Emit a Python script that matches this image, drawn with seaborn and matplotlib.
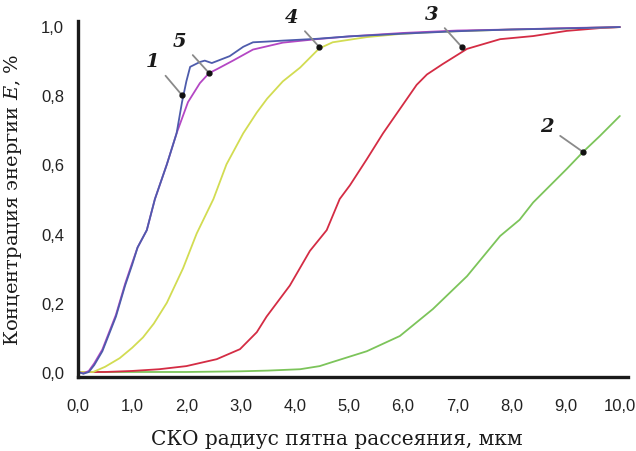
import matplotlib
matplotlib.use("Agg")
import matplotlib.pyplot as plt
from matplotlib.ticker import FuncFormatter
import seaborn as sns
import pandas as pd

# Curve 1
x1 = [0.0, 0.1, 0.2, 0.3, 0.45, 0.6, 0.7, 0.87, 1.0, 1.1, 1.27, 1.42, 1.64, 1.82, 1.92,
      2.0, 2.07, 2.25, 2.34, 2.47, 2.8, 3.05, 3.23, 3.48, 3.8, 4.4, 5.0, 6.0, 7.0, 8.0, 9.0, 10.0]
y1 = [0.0, -0.005, 0.0, 0.02, 0.06, 0.12, 0.16, 0.25, 0.31, 0.36, 0.41, 0.5, 0.6, 0.69, 0.78,
      0.84, 0.882, 0.896, 0.9, 0.893, 0.913, 0.94, 0.953, 0.955, 0.958, 0.963, 0.97, 0.978,
      0.985, 0.99, 0.993, 0.997]
# Curve 2
x2 = [0.0, 1.0, 2.0, 3.0, 3.5, 4.1, 4.46, 4.7, 5.33, 5.94, 6.55, 7.18, 7.79, 8.15, 8.4,
      9.02, 9.32, 9.63, 10.0]
y2 = [0.0, 0.0, 0.0, 0.002, 0.004, 0.008, 0.017, 0.029, 0.06, 0.104, 0.182, 0.277, 0.393,
      0.44, 0.49, 0.587, 0.636, 0.682, 0.74]
# Curve 3
x3 = [0.0, 0.5, 1.0, 1.5, 2.0, 2.56, 2.99, 3.3, 3.48, 3.91, 4.28, 4.59, 4.83, 5.02, 5.33,
      5.63, 5.94, 6.25, 6.44, 6.73, 7.18, 7.79, 8.4, 9.02, 9.63, 10.0]
y3 = [0.0, 0.0, 0.003, 0.008, 0.017, 0.037, 0.066, 0.115, 0.16, 0.25, 0.35, 0.41, 0.5, 0.54,
      0.615, 0.69, 0.76, 0.83, 0.86, 0.89, 0.934, 0.962, 0.971, 0.986, 0.994, 0.997]
# Curve 4
x4 = [0.0, 0.28, 0.5, 0.77, 1.0, 1.2, 1.4, 1.64, 1.94, 2.19, 2.5, 2.74, 3.05, 3.3, 3.49,
      3.78, 4.1, 4.45, 4.7, 5.33, 5.94, 6.5, 7.0, 8.0, 9.0, 10.0]
y4 = [0.0, 0.0, 0.015, 0.04, 0.07, 0.1, 0.14, 0.2, 0.3, 0.4, 0.5, 0.6, 0.69, 0.75, 0.79,
      0.84, 0.88, 0.935, 0.953, 0.968, 0.977, 0.982, 0.985, 0.99, 0.993, 0.997]
# Curve 5
x5 = [0.0, 0.1, 0.2, 0.3, 0.45, 0.6, 0.7, 0.87, 1.0, 1.1, 1.27, 1.42, 1.64, 1.82, 2.03,
      2.25, 2.42, 2.56, 2.86, 3.23, 3.78, 4.4, 5.0, 6.0, 7.0, 8.0, 9.0, 10.0]
y5 = [0.0, -0.004, 0.003, 0.025, 0.065, 0.125, 0.165, 0.255, 0.315, 0.36, 0.41, 0.5, 0.6,
      0.69, 0.78, 0.835, 0.864, 0.875, 0.9, 0.932, 0.952, 0.962, 0.97, 0.98, 0.987, 0.99,
      0.994, 0.997]

curve_labels = ["1", "2", "3", "4", "5"]
# label position and the point on the curve it marks
label_xy = [(1.38, 0.90), (8.65, 0.71), (6.53, 1.035), (3.95, 1.026), (1.88, 0.957)]
target_xy = [(1.92, 0.80), (9.32, 0.636), (7.08, 0.94), (4.45, 0.94), (2.42, 0.864)]

x_ticks = [0, 1, 2, 3, 4, 5, 6, 7, 8, 9, 10]
y_ticks = [0.0, 0.2, 0.4, 0.6, 0.8, 1.0]

colors = ["#4e5cac", "#7cc45a", "#d42c44", "#d2dc52", "#b447c4"]

sns.set_theme(style="white")
plt.rcParams["font.family"] = ["Liberation Sans", "DejaVu Sans"]
plt.rcParams["mathtext.fontset"] = "dejavuserif"

fig = plt.figure(figsize=(6.36, 4.52), dpi=100)
ax = fig.add_axes([0.1226, 0.1637, 0.8648, 0.7876])

series = [(x2, y2), (x3, y3), (x4, y4), (x5, y5), (x1, y1)]
order = [1, 2, 3, 4, 0]
for (xs, ys), idx in zip(series, order):
    df = pd.DataFrame({"x": xs, "y": ys})
    sns.lineplot(data=df, x="x", y="y", ax=ax, color=colors[idx], linewidth=1.3,
                 estimator=None, sort=False)

for lab, (tx, ty), (px, py) in zip(curve_labels, label_xy, target_xy):
    ax.annotate(lab, xy=(px, py), xytext=(tx, ty), textcoords="data",
                fontsize=14, fontstyle="italic", fontweight="bold",
                family="DejaVu Serif", ha="center", va="center", color="#1a1a1a",
                arrowprops=dict(arrowstyle="-", color="#8a8a8a", lw=1.3,
                                shrinkA=3, shrinkB=0))
    ax.plot([px], [py], marker="o", markersize=3.5, color="#111111", zorder=5)

ax.set_xlim(0, 10.15)
ax.set_ylim(-0.0145, 1.0145)
ax.set_xticks(x_ticks)
ax.set_yticks(y_ticks)
ax.xaxis.set_major_formatter(FuncFormatter(lambda v, p: f"{v:.1f}".replace(".", ",")))
ax.yaxis.set_major_formatter(FuncFormatter(lambda v, p: f"{v:.1f}".replace(".", ",")))
ax.tick_params(axis="both", length=0, labelsize=12, colors="#222222")
ax.tick_params(axis="x", pad=15)
ax.tick_params(axis="y", pad=10)

for s in ["top", "right"]:
    ax.spines[s].set_visible(False)
for s in ["left", "bottom"]:
    ax.spines[s].set_color("#1a1a1a")
    ax.spines[s].set_linewidth(2.4)

ax.set_xlabel("СКО радиус пятна рассеяния, мкм", family="DejaVu Serif", fontsize=14.5,
              color="#1a1a1a")
ax.xaxis.set_label_coords(0.47, -0.145)
ax.set_ylabel("Концентрация энергии $E$, %", family="DejaVu Serif", fontsize=14,
              color="#1a1a1a", labelpad=12)

fig.savefig("out.png", dpi=100)
